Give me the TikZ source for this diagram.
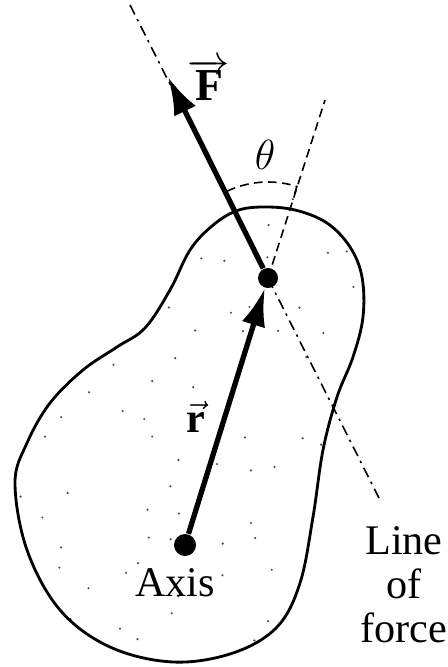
\documentclass[tikz,border=0pt]{standalone}
\usepackage{fontspec}
\setmainfont{Liberation Serif}
\usetikzlibrary{arrows.meta,calc}
\newcommand{\blobpath}{plot[smooth cycle, tension=0.6] coordinates {(170,-290) (190,-250) (212,-226) (236,-211) (262,-207) (295,-210) (327,-223) (350,-247) (362,-277) (363,-317) (353,-357) (337,-397) (323,-450) (313,-517) (300,-583) (277,-627) (233,-653) (173,-662) (110,-647) (60,-610) (27,-550) (15,-483) (27,-443) (50,-403) (83,-370) (117,-347) (145,-328)}}
\begin{document}
\begin{tikzpicture}[x=0.01cm, y=0.01cm,
  vecarrow/.style={line width=1.5pt, -{Latex[length=3.8mm,width=2.4mm]}},
  lineforce/.style={line width=0.45pt, dash pattern=on 3pt off 1.5pt on 0.7pt off 1.5pt},
  guide/.style={line width=0.45pt, dash pattern=on 2.5pt off 1.5pt},
  label/.style={font=\fontsize{12}{12.5}\selectfont, inner sep=0pt}]
\useasboundingbox (0,0) rectangle (447,-667);
% stippled body
\begin{scope}
\clip \blobpath;
\pgfmathsetseed{7}
\foreach \x in {15,41,...,370} \foreach \y in {205,231,...,665} {
  \pgfmathtruncatemacro{\keep}{rnd<0.35}
  \ifnum\keep=1 \fill[black!70] (\x+rand*8,-\y+rand*8) circle (1.2); \fi
}
\end{scope}
\draw[line width=0.8pt] \blobpath;
% points
\node[circle, fill, inner sep=0pt, minimum size=0.22cm] (axisdot) at (185,-545) {};
\node[circle, fill, inner sep=0pt, minimum size=0.2cm] (app) at (268,-278) {};
\coordinate (ftip) at (168,-77);
\coordinate (lftop) at (130,-5);
\coordinate (lfbot) at (379,-498);
\coordinate (rext) at (325,-100);
% line of force and extension of r
\draw[lineforce] (lftop) -- (lfbot);
\draw[guide] (app.center) -- (rext);
% angle
\draw[guide] ($(app)+(116.5:84)$) -- ($(app)+(116.5:96)$) arc[start angle=116.5, end angle=72.5, radius=96] -- ($(app)+(72.5:82)$);
% vectors
\draw[vecarrow] (app) -- (ftip);
\draw[vecarrow] (axisdot) -- (app);
% labels
\node[label] (flabel) at (209,-80) {\fontsize{13}{14}\selectfont$\overrightarrow{\textbf{F}}$};
\node[label] (theta) at (265,-155) {\fontsize{13}{14}\selectfont$\theta$};
\node[label] (rlabel) at (196,-417) {$\vec{\textbf{r}}$};
\node[label] (axis) at (175,-583) {Axis};
\node[label, align=center] (lof) at (404,-585) {Line\\of\\force};
\end{tikzpicture}
\end{document}
